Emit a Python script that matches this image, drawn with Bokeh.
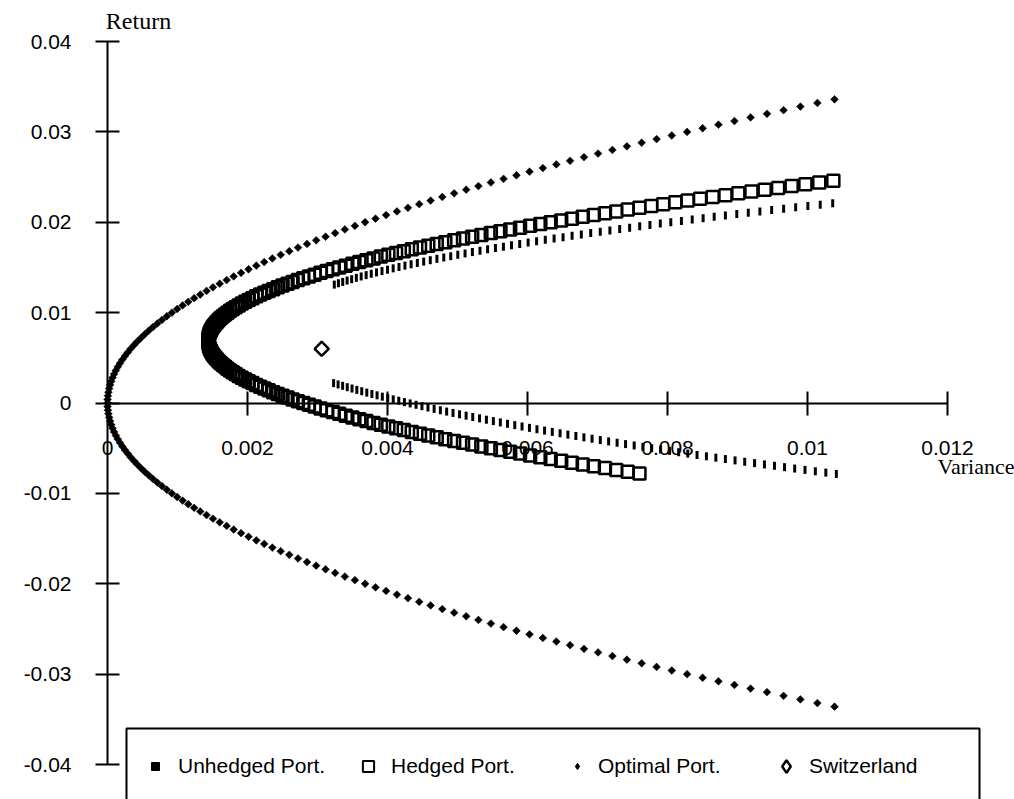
from bokeh.plotting import figure
from bokeh.models import (Range1d, FixedTicker, CustomJSTickFormatter, Label,
                          Legend, LegendItem, BoxAnnotation)
from bokeh.embed import file_html
from bokeh.resources import INLINE

# ---------------- data (variance, return) ----------------
x_ticks = [0, 0.002, 0.004, 0.006, 0.008, 0.01, 0.012]
y_ticks = [-0.04, -0.03, -0.02, -0.01, 0, 0.01, 0.02, 0.03, 0.04]

opt_ret = [
    -0.0336, -0.0332, -0.0328, -0.0324, -0.0320, -0.0316, -0.0312, -0.0308, -0.0304, -0.0300,
    -0.0296, -0.0292, -0.0288, -0.0284, -0.0280, -0.0276, -0.0272, -0.0268, -0.0264, -0.0260,
    -0.0256, -0.0252, -0.0248, -0.0244, -0.0240, -0.0236, -0.0232, -0.0228, -0.0224, -0.0220,
    -0.0216, -0.0212, -0.0208, -0.0204, -0.0200, -0.0196, -0.0192, -0.0188, -0.0184, -0.0180,
    -0.0176, -0.0172, -0.0168, -0.0164, -0.0160, -0.0156, -0.0152, -0.0148, -0.0144, -0.0140,
    -0.0136, -0.0132, -0.0128, -0.0124, -0.0120, -0.0116, -0.0112, -0.0108, -0.0104, -0.0100,
    -0.0096, -0.0092, -0.0088, -0.0084, -0.0080, -0.0076, -0.0072, -0.0068, -0.0064, -0.0060,
    -0.0056, -0.0052, -0.0048, -0.0044, -0.0040, -0.0036, -0.0032, -0.0028, -0.0024, -0.0020,
    -0.0016, -0.0012, -0.0008, -0.0004,
    0.0,
    0.0004, 0.0008, 0.0012, 0.0016,
    0.0020, 0.0024, 0.0028, 0.0032, 0.0036, 0.0040, 0.0044, 0.0048, 0.0052, 0.0056,
    0.0060, 0.0064, 0.0068, 0.0072, 0.0076, 0.0080, 0.0084, 0.0088, 0.0092, 0.0096,
    0.0100, 0.0104, 0.0108, 0.0112, 0.0116, 0.0120, 0.0124, 0.0128, 0.0132, 0.0136,
    0.0140, 0.0144, 0.0148, 0.0152, 0.0156, 0.0160, 0.0164, 0.0168, 0.0172, 0.0176,
    0.0180, 0.0184, 0.0188, 0.0192, 0.0196, 0.0200, 0.0204, 0.0208, 0.0212, 0.0216,
    0.0220, 0.0224, 0.0228, 0.0232, 0.0236, 0.0240, 0.0244, 0.0248, 0.0252, 0.0256,
    0.0260, 0.0264, 0.0268, 0.0272, 0.0276, 0.0280, 0.0284, 0.0288, 0.0292, 0.0296,
    0.0300, 0.0304, 0.0308, 0.0312, 0.0316, 0.0320, 0.0324, 0.0328, 0.0332, 0.0336,
]
opt_var = [
    0.010386, 0.010141, 0.009898, 0.009658, 0.009421, 0.009187, 0.008956, 0.008728, 0.008502, 0.008280,
    0.008061, 0.007844, 0.007631, 0.007420, 0.007213, 0.007008, 0.006807, 0.006608, 0.006412, 0.006219,
    0.006029, 0.005842, 0.005658, 0.005477, 0.005299, 0.005124, 0.004952, 0.004783, 0.004616, 0.004453,
    0.004292, 0.004135, 0.003980, 0.003829, 0.003680, 0.003534, 0.003391, 0.003252, 0.003115, 0.002981,
    0.002850, 0.002722, 0.002597, 0.002474, 0.002355, 0.002239, 0.002126, 0.002015, 0.001908, 0.001803,
    0.001702, 0.001603, 0.001507, 0.001415, 0.001325, 0.001238, 0.001154, 0.001073, 0.000995, 0.000920,
    0.000848, 0.000779, 0.000712, 0.000649, 0.000589, 0.000531, 0.000477, 0.000425, 0.000377, 0.000331,
    0.000289, 0.000249, 0.000212, 0.000178, 0.000147, 0.000119, 0.000094, 0.000072, 0.000053, 0.000037,
    0.000024, 0.000013, 0.000006, 0.000001,
    0.0,
    0.000001, 0.000006, 0.000013, 0.000024,
    0.000037, 0.000053, 0.000072, 0.000094, 0.000119, 0.000147, 0.000178, 0.000212, 0.000249, 0.000289,
    0.000331, 0.000377, 0.000425, 0.000477, 0.000531, 0.000589, 0.000649, 0.000712, 0.000779, 0.000848,
    0.000920, 0.000995, 0.001073, 0.001154, 0.001238, 0.001325, 0.001415, 0.001507, 0.001603, 0.001702,
    0.001803, 0.001908, 0.002015, 0.002126, 0.002239, 0.002355, 0.002474, 0.002597, 0.002722, 0.002850,
    0.002981, 0.003115, 0.003252, 0.003391, 0.003534, 0.003680, 0.003829, 0.003980, 0.004135, 0.004292,
    0.004453, 0.004616, 0.004783, 0.004952, 0.005124, 0.005299, 0.005477, 0.005658, 0.005842, 0.006029,
    0.006219, 0.006412, 0.006608, 0.006807, 0.007008, 0.007213, 0.007420, 0.007631, 0.007844, 0.008061,
    0.008280, 0.008502, 0.008728, 0.008956, 0.009187, 0.009421, 0.009658, 0.009898, 0.010141, 0.010386,
]

hed_ret = [
    -0.0078, -0.0076, -0.0074, -0.0072, -0.0070, -0.0068, -0.0066, -0.0064, -0.0062, -0.0060,
    -0.0058, -0.0056, -0.0054, -0.0052, -0.0050, -0.0048, -0.0046, -0.0044, -0.0042, -0.0040,
    -0.0038, -0.0036, -0.0034, -0.0032, -0.0030, -0.0028, -0.0026, -0.0024, -0.0022, -0.0020,
    -0.0018, -0.0016, -0.0014, -0.0012, -0.0010, -0.0008, -0.0006, -0.0004, -0.0002, 0.0000,
    0.0002, 0.0004, 0.0006, 0.0008, 0.0010, 0.0012, 0.0014, 0.0016, 0.0018, 0.0020,
    0.0022, 0.0024, 0.0026, 0.0028, 0.0030, 0.0032, 0.0034, 0.0036, 0.0038, 0.0040,
    0.0042, 0.0044, 0.0046, 0.0048, 0.0050, 0.0052, 0.0054, 0.0056, 0.0058, 0.0060,
    0.0062, 0.0064, 0.0066, 0.0068,
    0.0070, 0.0072, 0.0074, 0.0076, 0.0078, 0.0080, 0.0082, 0.0084, 0.0086, 0.0088,
    0.0090, 0.0092, 0.0094, 0.0096, 0.0098, 0.0100, 0.0102, 0.0104, 0.0106, 0.0108,
    0.0110, 0.0112, 0.0114, 0.0116, 0.0118, 0.0120, 0.0122, 0.0124, 0.0126, 0.0128,
    0.0130, 0.0132, 0.0134, 0.0136, 0.0138, 0.0140, 0.0142, 0.0144, 0.0146, 0.0148,
    0.0150, 0.0152, 0.0154, 0.0156, 0.0158, 0.0160, 0.0162, 0.0164, 0.0166, 0.0168,
    0.0170, 0.0172, 0.0174, 0.0176, 0.0178, 0.0180, 0.0182, 0.0184, 0.0186, 0.0188,
    0.0190, 0.0192, 0.0194, 0.0196, 0.0198, 0.0200, 0.0202, 0.0204, 0.0206, 0.0208,
    0.0210, 0.0212, 0.0214, 0.0216, 0.0218, 0.0220, 0.0222, 0.0224, 0.0226, 0.0228,
    0.0230, 0.0232, 0.0234, 0.0236, 0.0238, 0.0240, 0.0242, 0.0244, 0.0246,
]
hed_var = [
    0.007599, 0.007432, 0.007268, 0.007106, 0.006947, 0.006789, 0.006634, 0.006481, 0.006331, 0.006183,
    0.006037, 0.005893, 0.005752, 0.005613, 0.005476, 0.005341, 0.005209, 0.005079, 0.004952, 0.004826,
    0.004703, 0.004582, 0.004464, 0.004347, 0.004233, 0.004122, 0.004012, 0.003905, 0.003800, 0.003698,
    0.003597, 0.003499, 0.003403, 0.003310, 0.003219, 0.003130, 0.003043, 0.002959, 0.002877, 0.002797,
    0.002719, 0.002644, 0.002571, 0.002500, 0.002432, 0.002366, 0.002302, 0.002241, 0.002181, 0.002124,
    0.002070, 0.002017, 0.001967, 0.001919, 0.001873, 0.001830, 0.001789, 0.001750, 0.001714, 0.001680,
    0.001648, 0.001618, 0.001591, 0.001566, 0.001543, 0.001522, 0.001504, 0.001488, 0.001474, 0.001463,
    0.001454, 0.001447, 0.001443, 0.001440,
    0.001440, 0.001443, 0.001447, 0.001454, 0.001463, 0.001474, 0.001488, 0.001504, 0.001522, 0.001543,
    0.001566, 0.001591, 0.001618, 0.001648, 0.001680, 0.001714, 0.001750, 0.001789, 0.001830, 0.001873,
    0.001919, 0.001967, 0.002017, 0.002070, 0.002124, 0.002181, 0.002241, 0.002302, 0.002366, 0.002432,
    0.002500, 0.002571, 0.002644, 0.002719, 0.002797, 0.002877, 0.002959, 0.003043, 0.003130, 0.003219,
    0.003310, 0.003403, 0.003499, 0.003597, 0.003698, 0.003800, 0.003905, 0.004012, 0.004122, 0.004233,
    0.004347, 0.004464, 0.004582, 0.004703, 0.004826, 0.004952, 0.005079, 0.005209, 0.005341, 0.005476,
    0.005613, 0.005752, 0.005893, 0.006037, 0.006183, 0.006331, 0.006481, 0.006634, 0.006789, 0.006947,
    0.007106, 0.007268, 0.007432, 0.007599, 0.007767, 0.007938, 0.008112, 0.008287, 0.008465, 0.008645,
    0.008828, 0.009012, 0.009199, 0.009388, 0.009580, 0.009774, 0.009970, 0.010168, 0.010369,
]

unh_ret = [
    -0.00785, -0.0077, -0.00755, -0.0074, -0.00725, -0.0071, -0.00695, -0.0068,
    -0.00665, -0.0065, -0.00635, -0.0062, -0.00605, -0.0059, -0.00575, -0.0056, -0.00545, -0.0053,
    -0.00515, -0.0050, -0.00485, -0.0047, -0.00455, -0.0044, -0.00425, -0.0041, -0.00395, -0.0038,
    -0.00365, -0.0035, -0.00335, -0.0032, -0.00305, -0.0029, -0.00275, -0.0026, -0.00245, -0.0023,
    -0.00215, -0.0020, -0.00185, -0.0017, -0.00155, -0.0014, -0.00125, -0.0011, -0.00095, -0.0008,
    -0.00065, -0.0005, -0.00035, -0.0002, -0.00005, 0.0001, 0.00025, 0.0004, 0.00055, 0.0007,
    0.00085, 0.0010, 0.00115, 0.0013, 0.00145, 0.0016, 0.00175, 0.0019, 0.00205, 0.0022,
    0.0040, 0.0060, 0.0080, 0.0100,
    0.0131, 0.01325, 0.0134, 0.01355, 0.0137, 0.01385, 0.0140, 0.01415, 0.0143, 0.01445,
    0.0146, 0.01475, 0.0149, 0.01505, 0.0152, 0.01535, 0.0155, 0.01565, 0.0158, 0.01595,
    0.0161, 0.01625, 0.0164, 0.01655, 0.0167, 0.01685, 0.0170, 0.01715, 0.0173, 0.01745,
    0.0176, 0.01775, 0.0179, 0.01805, 0.0182, 0.01835, 0.0185, 0.01865, 0.0188, 0.01895,
    0.0191, 0.01925, 0.0194, 0.01955, 0.0197, 0.01985, 0.0200, 0.02015, 0.0203, 0.02045,
    0.0206, 0.02075, 0.0209, 0.02105, 0.0212, 0.02135, 0.0215, 0.02165, 0.0218, 0.02195,
    0.0221,
]
unh_var = [
    0.010412, 0.010262, 0.010112, 0.009964, 0.009817, 0.009672, 0.009528, 0.009385,
    0.009244, 0.009103, 0.008965, 0.008827, 0.008691, 0.008556, 0.008422, 0.008290, 0.008159, 0.008030,
    0.007901, 0.007774, 0.007649, 0.007524, 0.007401, 0.007280, 0.007159, 0.007040, 0.006922, 0.006806,
    0.006691, 0.006577, 0.006465, 0.006354, 0.006244, 0.006135, 0.006028, 0.005922, 0.005818, 0.005714,
    0.005612, 0.005512, 0.005413, 0.005315, 0.005218, 0.005123, 0.005029, 0.004936, 0.004845, 0.004755,
    0.004666, 0.004578, 0.004492, 0.004408, 0.004324, 0.004242, 0.004161, 0.004082, 0.004003, 0.003926,
    0.003851, 0.003777, 0.003704, 0.003632, 0.003562, 0.003493, 0.003425, 0.003359, 0.003294, 0.003230,
    0.001680, 0.001463, 0.001475, 0.001714,
    0.003240, 0.003299, 0.003360, 0.003423, 0.003488, 0.003555, 0.003624, 0.003695, 0.003768, 0.003843,
    0.003921, 0.004000, 0.004081, 0.004164, 0.004249, 0.004337, 0.004426, 0.004517, 0.004611, 0.004706,
    0.004804, 0.004903, 0.005004, 0.005108, 0.005213, 0.005321, 0.005430, 0.005542, 0.005656, 0.005771,
    0.005889, 0.006009, 0.006130, 0.006254, 0.006380, 0.006508, 0.006637, 0.006769, 0.006903, 0.007039,
    0.007177, 0.007317, 0.007459, 0.007603, 0.007749, 0.007897, 0.008047, 0.008199, 0.008353, 0.008509,
    0.008667, 0.008827, 0.008990, 0.009154, 0.009320, 0.009488, 0.009659, 0.009831, 0.010005, 0.010182,
    0.010360,
]

swiss_var = [0.00306]
swiss_ret = [0.0060]

series_labels = ["Unhedged Port.", "Hedged Port.", "Optimal Port.", "Switzerland"]


def pair(xs, ys):
    n = min(len(xs), len(ys))
    return list(xs[:n]), list(ys[:n])


# ---------------- layout: the frame fills the whole canvas ----------------
W, H = 1014, 799
X0_PX, X1_PX = 107, 947      # pixel columns of variance 0 and 0.012
Y1_PX, Y0_PX = 41, 764       # pixel rows of return 0.04 and -0.04
sx = (x_ticks[-1] - x_ticks[0]) / (X1_PX - X0_PX)
sy = (y_ticks[-1] - y_ticks[0]) / (Y0_PX - Y1_PX)
x_range = Range1d(x_ticks[0] - X0_PX * sx, x_ticks[0] + (W - X0_PX) * sx)
y_range = Range1d(y_ticks[-1] - (H - Y1_PX) * sy, y_ticks[-1] + Y1_PX * sy)


def xd(px):
    return x_range.start + px * sx


def yd(py):
    return y_range.end - py * sy


p = figure(width=W, height=H, x_range=x_range, y_range=y_range,
           output_backend="svg", toolbar_location=None, min_border=0)
p.background_fill_color = "white"
p.border_fill_color = "white"
p.outline_line_color = None
p.xgrid.visible = False
p.ygrid.visible = False

fmt_code = "return tick.toString();"
for ax in (p.xaxis[0], p.yaxis[0]):
    ax.axis_line_width = 2
    ax.axis_line_color = "black"
    ax.major_tick_line_width = 2
    ax.major_tick_line_color = "black"
    ax.major_tick_in = 12
    ax.major_tick_out = 12
    ax.minor_tick_line_color = None
    ax.major_label_text_font = "Liberation Sans"
    ax.major_label_text_font_size = "21px"
    ax.major_label_text_color = "black"
    ax.formatter = CustomJSTickFormatter(code=fmt_code)
    ax.fixed_location = 0

p.xaxis[0].ticker = FixedTicker(ticks=x_ticks)
p.yaxis[0].ticker = FixedTicker(ticks=y_ticks)
p.xaxis[0].bounds = (x_ticks[0], x_ticks[-1])
p.yaxis[0].bounds = (y_ticks[0], y_ticks[-1])
p.xaxis[0].major_label_standoff = 26
p.yaxis[0].major_label_standoff = 24

# ---------------- series ----------------
ox, oy = pair(opt_var, opt_ret)
p.scatter(ox, oy, marker="square", angle=0.785398, size=5.5,
          fill_color="black", line_color="black", line_width=0.5)

ux, uy = pair(unh_var, unh_ret)
p.rect(x=ux, y=uy, width=3, height=8, width_units="screen", height_units="screen",
       fill_color="black", line_color=None)

hx, hy = pair(hed_var, hed_ret)
p.scatter(hx, hy, marker="square", size=12, fill_color=None,
          line_color="black", line_width=2.5)

p.scatter(swiss_var, swiss_ret, marker="square", angle=0.785398, size=10,
          fill_color=None, line_color="black", line_width=2.5)

# ---------------- legend (keys only; no data) ----------------
nan = float("nan")
k_unh = p.scatter([nan], [nan], marker="square", fill_color="black", line_color="black")
k_hed = p.scatter([nan], [nan], marker="square", fill_color=None,
                  line_color="black", line_width=2)
k_opt = p.scatter([nan], [nan], marker="diamond", fill_color="black", line_color="black")
k_sw = p.scatter([nan], [nan], marker="diamond", fill_color=None,
                 line_color="black", line_width=2.5)

p.add_layout(BoxAnnotation(left=xd(126), right=xd(979), top=yd(728), bottom=yd(810),
                           fill_color=None, line_color="black", line_width=2, line_alpha=1))

# (key renderer, glyph-center px, key box px, text-start px)
keys = [(k_unh, 155, 20, 178), (k_hed, 368, 28, 391),
        (k_opt, 577, 16, 598), (k_sw, 786, 32, 809)]
ROW_PX = 766
GH = 32
for (rend, cx, gw, tx), lab in zip(keys, series_labels):
    lg = Legend(items=[LegendItem(label=lab, renderers=[rend])],
                orientation="horizontal",
                location=(int(cx - gw // 2), int(H - ROW_PX - GH // 2)),
                glyph_width=int(gw), glyph_height=int(GH),
                label_standoff=int(tx - (cx + gw // 2)),
                padding=0, margin=0, spacing=0,
                border_line_color=None, background_fill_alpha=0,
                label_text_font="Liberation Sans", label_text_font_size="21px",
                label_text_color="black")
    p.add_layout(lg)

p.add_layout(Label(x=0, y=0.04, x_units="data", y_units="data", text="Return",
                   x_offset=31, y_offset=21, text_align="center", text_baseline="middle",
                   text_font="Liberation Serif", text_font_size="24px", text_color="black"))
p.add_layout(Label(x=0.012, y=0, x_units="data", y_units="data", text="Variance",
                   x_offset=-10, y_offset=-63, text_align="left", text_baseline="middle",
                   text_font="Liberation Serif", text_font_size="22px", text_color="black"))

open("out.html", "w").write(file_html(p, INLINE))
